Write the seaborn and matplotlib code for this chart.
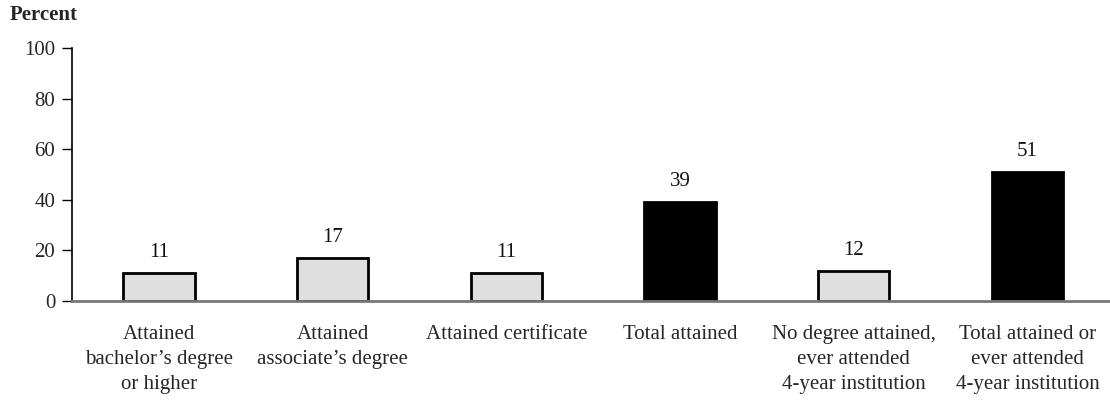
import matplotlib
matplotlib.use("Agg")
import matplotlib.pyplot as plt
import seaborn as sns
import pandas as pd

categories = [
    "Attained\nbachelor\u2019s degree\nor higher",
    "Attained\nassociate\u2019s degree",
    "Attained certificate",
    "Total attained",
    "No degree attained,\never attended\n4-year institution",
    "Total attained or\never attended\n4-year institution",
]
values = [11, 17, 11, 39, 12, 51]
groups = ["part", "part", "part", "total", "part", "total"]
y_ticks = [0, 20, 40, 60, 80, 100]

sns.set_theme(style="white")
plt.rcParams["font.family"] = ["Liberation Serif", "DejaVu Serif"]

FS = 15

df = pd.DataFrame({"cat": categories, "val": values, "grp": groups})

fig = plt.figure(figsize=(11.1, 4.05), dpi=100)
ax = fig.add_axes([0.0649, 0.2568, 0.9351, 0.6247])

sns.barplot(
    data=df, x="cat", y="val", hue="grp",
    palette={"part": "#dfdfdf", "total": "#000000"},
    dodge=False, width=0.41, edgecolor="black", linewidth=2,
    legend=False, ax=ax,
)

# value labels sit a fixed distance above each bar
for i, v in enumerate(values):
    ax.annotate(f"{v}", xy=(i, v), xytext=(0, 16), textcoords="offset pixels",
                ha="center", va="baseline", fontsize=FS, color="#111111")

ax.set_ylim(0, 100)
ax.set_xlim(-0.5, 5.475)
ax.set_yticks(y_ticks)
ax.set_yticklabels([str(t) for t in y_ticks], fontsize=FS)
ax.set_xticks(range(len(categories)))
ax.set_xticklabels(categories, fontsize=FS, linespacing=1.45)
ax.tick_params(axis="y", direction="out", length=7, width=1, color="black", pad=5, left=True)
ax.tick_params(axis="x", length=0, pad=17)
ax.set_xlabel("")
ax.set_ylabel("")

for s in ["top", "right"]:
    ax.spines[s].set_visible(False)
ax.spines["left"].set_color("black")
ax.spines["left"].set_linewidth(1.2)
ax.spines["bottom"].set_color("#777777")
ax.spines["bottom"].set_linewidth(2)
ax.spines["bottom"].set_zorder(5)

fig.text(0.009, 1 - 20 / 405, "Percent", fontsize=FS, fontweight="bold",
         ha="left", va="baseline")

fig.savefig("out.png", dpi=100)
